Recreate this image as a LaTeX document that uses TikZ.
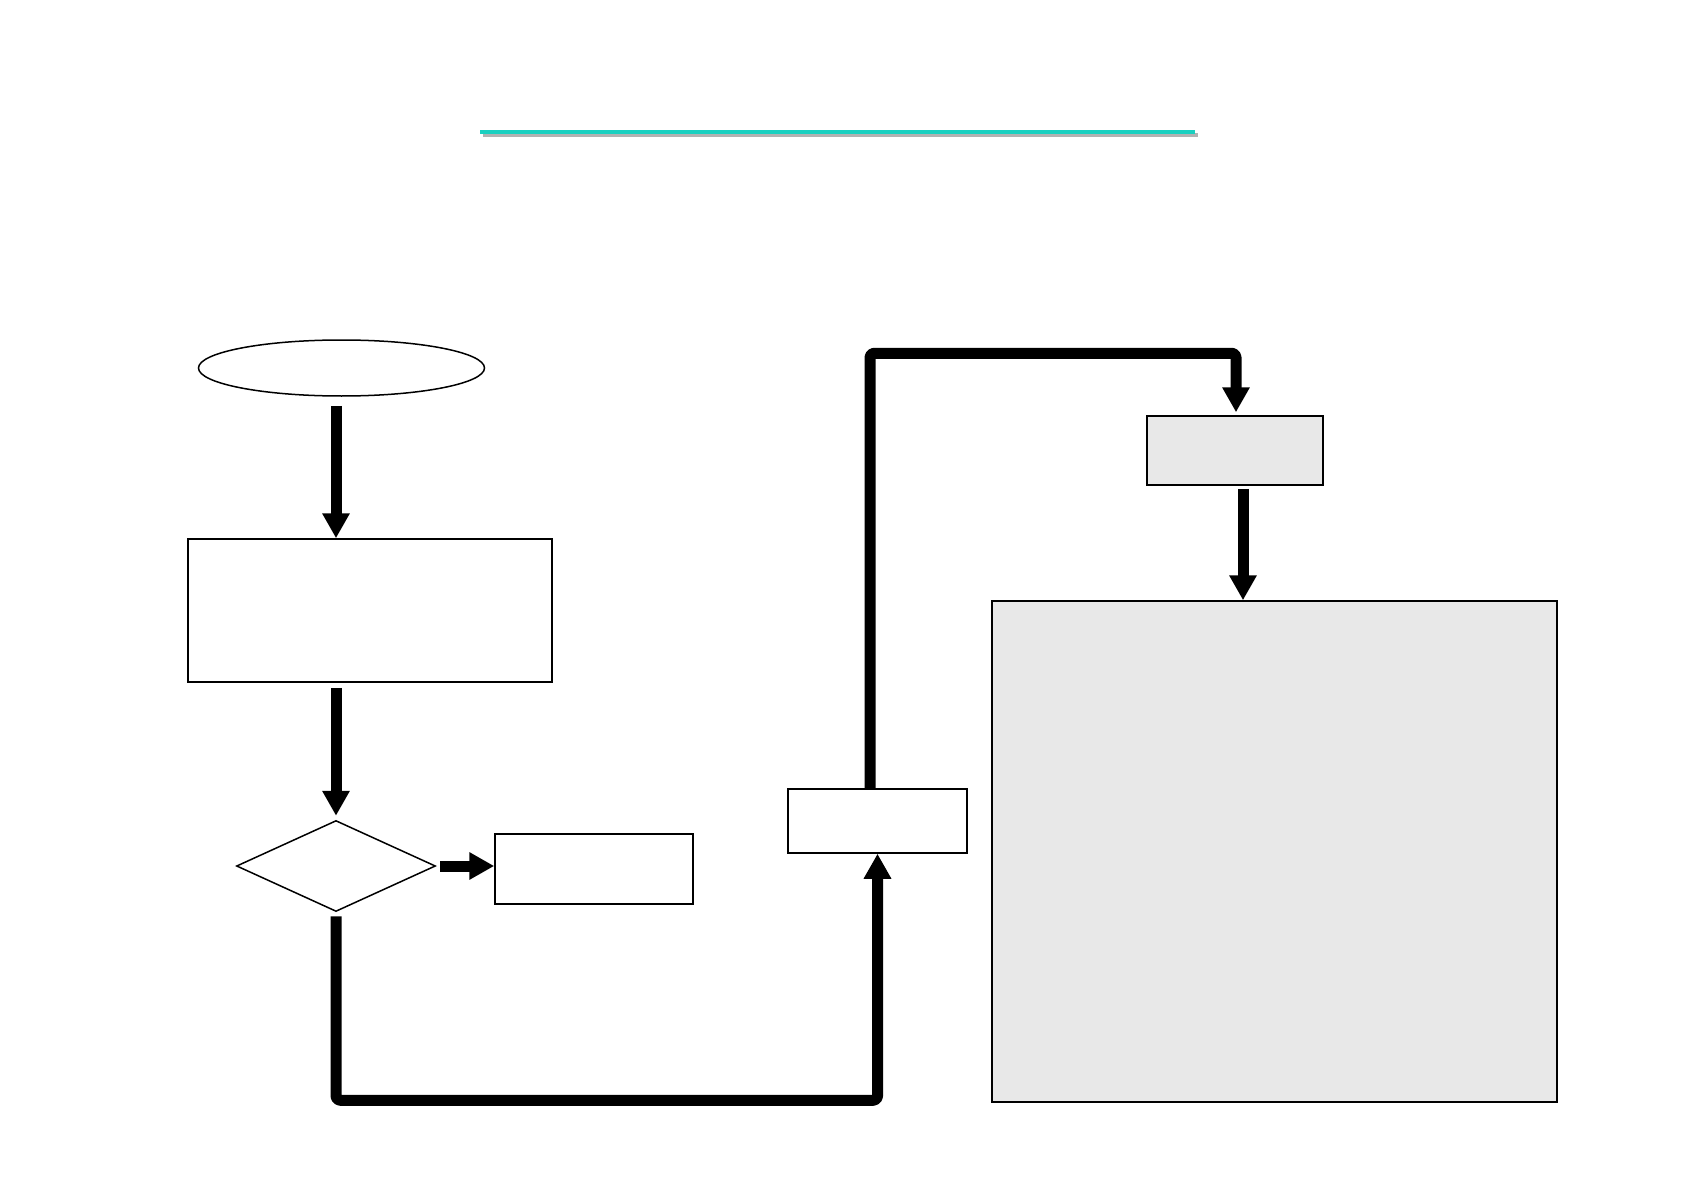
\documentclass[tikz,border=0pt]{standalone}
\usetikzlibrary{arrows.meta,shapes.geometric,calc}
\definecolor{teal1}{RGB}{26,208,192}
\definecolor{boxgray}{RGB}{232,232,232}
\begin{document}
\begin{tikzpicture}[x=1pt,y=-1pt,
  box/.style={draw=black,line width=1.5pt,inner sep=0pt,fill=white},
  graybox/.style={box,fill=boxgray},
  arr/.style={line width=11pt,-{Triangle[width=26pt,length=25pt]},line join=round,rounded corners=4pt}]
\useasboundingbox (0,0) rectangle (1684,1190);
\fill[white] (0,0) rectangle (1684,1190);
% title rule
\draw[line width=4pt,gray!60] (483,135) -- (1198,135);
\draw[line width=4pt,teal1] (480,132) -- (1195,132);
% nodes
\node[box,ellipse,minimum width=286pt,minimum height=56pt] (start) at (341.5,368) {};
\node[box,rectangle,minimum width=364pt,minimum height=143pt] (proc) at (370,610.5) {};
\node[box,diamond,minimum width=199pt,minimum height=91pt] (dec) at (336,866) {};
\node[box,rectangle,minimum width=198pt,minimum height=70pt] (no) at (594,869) {};
\node[box,rectangle,minimum width=179pt,minimum height=64pt] (mid) at (877.5,821) {};
\node[graybox,rectangle,minimum width=176pt,minimum height=69pt] (g1) at (1235,450.5) {};
\node[graybox,rectangle,minimum width=565pt,minimum height=501pt] (g2) at (1274.5,851.5) {};
% connectors
\draw[arr] ($(start.south)+(-5.5,9)$) -- ($(proc.north)+(-34,0)$);
\draw[arr] ($(dec.north)+(0,-132)$) -- ($(dec.north)+(0,-4)$);
\draw[arr] ($(dec.east)+(4,0)$) -- ($(no.west)+(0,-3)$);
\draw[arr] ($(dec.south)+(0,4)$) -- ($(dec.south)+(0,188)$) -| (mid.south);
\draw[arr] ($(mid.north)+(-7.5,0)$) -- ($(mid.north)+(-7.5,-435)$) -| ($(g1.north)+(1,-3)$);
\draw[arr] ($(g1.south)+(8,3)$) -- ($(g2.north)+(-31.5,0)$);
\end{tikzpicture}
\end{document}
